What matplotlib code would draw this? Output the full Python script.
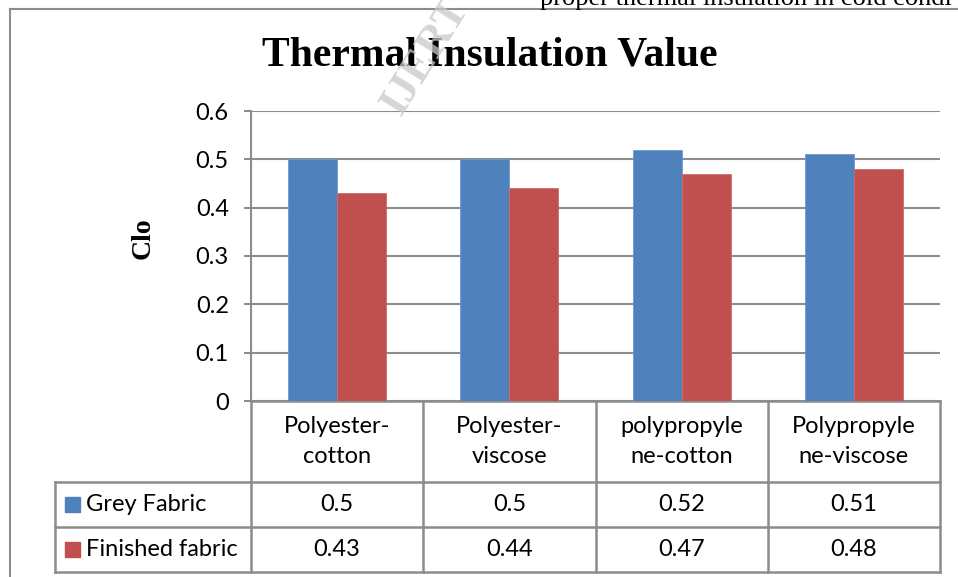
"""
Thermal insulation (clo) of grey and finished fabrics, Excel-style bar chart
with a data table underneath.
"""
import matplotlib.pyplot as plt
import matplotlib.transforms as mtransforms
import numpy as np

# Data
categories = ["Polyester-\ncotton", "Polyester-\nviscose",
              "polypropyle\nne-cotton", "Polypropyle\nne-viscose"]
series_names = ["Grey Fabric", "Finished fabric"]
grey = [0.50, 0.50, 0.52, 0.51]
finished = [0.43, 0.44, 0.47, 0.48]
y_ticks = [0, 0.1, 0.2, 0.3, 0.4, 0.5, 0.6]

colors = ["#4F81BD", "#C0504D"]
line_gray = "#8C8C8C"
body_font = "Lato"
fs = 17

W, H = 958, 577
fig = plt.figure(figsize=(W / 100, H / 100), dpi=100)

# Outer page borders (left and top)
fig.add_artist(plt.Line2D([10 / W, 10 / W], [0, 1 - 9 / H],
                          color=line_gray, lw=1.5))
fig.add_artist(plt.Line2D([10 / W, 1], [1 - 9 / H, 1 - 9 / H],
                          color=line_gray, lw=1.5))

# Cut-off line of document text at the very top
fig.text(540 / W, 1 - 5 / H, "proper thermal insulation in cold condi",
         family="Liberation Serif", fontsize=19, va="baseline", ha="left")

# Plot area
ax = fig.add_axes([251 / W, 1 - 401 / H, 689 / W, 290 / H])
xx = np.arange(len(categories))
bw = 0.285
ax.bar(xx - bw / 2, grey, bw, color=colors[0], edgecolor="#6f9bd0",
       linewidth=0.6, zorder=3)
ax.bar(xx + bw / 2, finished, bw, color=colors[1], edgecolor="#d06b68",
       linewidth=0.6, zorder=3)

ax.set_xlim(-0.5, len(categories) - 0.5)
ax.set_ylim(0, 0.6)
ax.set_yticks(y_ticks)
ax.set_yticklabels([f"{t:g}" for t in y_ticks], family=body_font,
                   fontsize=fs)
ax.yaxis.grid(True, color=line_gray, lw=1.5, zorder=0)
ax.set_axisbelow(True)
ax.set_xticks([])
for side in ["top", "right", "bottom"]:
    ax.spines[side].set_visible(False)
ax.spines["left"].set_color(line_gray)
ax.spines["left"].set_linewidth(1.5)
ax.tick_params(axis="y", length=5, width=1.5, color=line_gray, pad=11)

ax.set_ylabel("Clo", family="Liberation Serif", fontweight="bold",
              fontsize=20)
ax.yaxis.set_label_coords(-95 / 689, 0.56)

# Data table below the plot: x in data units, y in axes fraction
trans = mtransforms.blended_transform_factory(ax.transData, ax.transAxes)
hdr_h = 81 / 290
row_h = 45 / 290
y_rows = [0, -hdr_h, -hdr_h - row_h, -hdr_h - 2 * row_h]
x_left = -0.5 - 196 / 172.25   # left edge of the legend column
x_right = len(categories) - 0.5

line_kw = dict(color=line_gray, lw=1.8, transform=trans, clip_on=False,
               solid_capstyle="projecting")
ax.plot([-0.5, x_right], [0, 0], **line_kw)
for yy in y_rows[1:]:
    ax.plot([x_left, x_right], [yy, yy], **line_kw)
for bx in np.arange(len(categories) + 1) - 0.5:
    ax.plot([bx, bx], [0, y_rows[-1]], **line_kw)
ax.plot([x_left, x_left], [y_rows[1], y_rows[-1]], **line_kw)

# Category headers
for ii, cat in enumerate(categories):
    ax.text(ii, -hdr_h / 2, cat, transform=trans, ha="center", va="center",
            family=body_font, fontsize=fs, linespacing=1.5)

# Series rows with legend keys
for rr, (name, vals) in enumerate(zip(series_names, [grey, finished])):
    yc = y_rows[rr + 1] - row_h / 2
    key_x = x_left + 10 / 172.25
    ax.add_patch(plt.Rectangle((key_x, yc - 0.026), 15 / 172.25, 0.052,
                               color=colors[rr], transform=trans,
                               clip_on=False))
    ax.text(x_left + 31 / 172.25, yc, name, transform=trans, ha="left",
            va="center", family=body_font, fontsize=fs)
    for ii, vv in enumerate(vals):
        ax.text(ii, yc, f"{vv:g}", transform=trans, ha="center",
                va="center", family=body_font, fontsize=fs)

# Title
fig.text(490 / W, 1 - 55 / H, "Thermal Insulation Value",
         family="Liberation Serif", fontweight="bold", fontsize=30,
         ha="center", va="center")

# Faint publisher watermark
fig.text(426 / W, 1 - 56 / H, "IJERT", family="Liberation Serif",
         fontweight="bold", fontsize=32, rotation=58, ha="center",
         va="center", color="#c8c8c8", alpha=0.75, zorder=5)

fig.savefig("out.png", dpi=100)
